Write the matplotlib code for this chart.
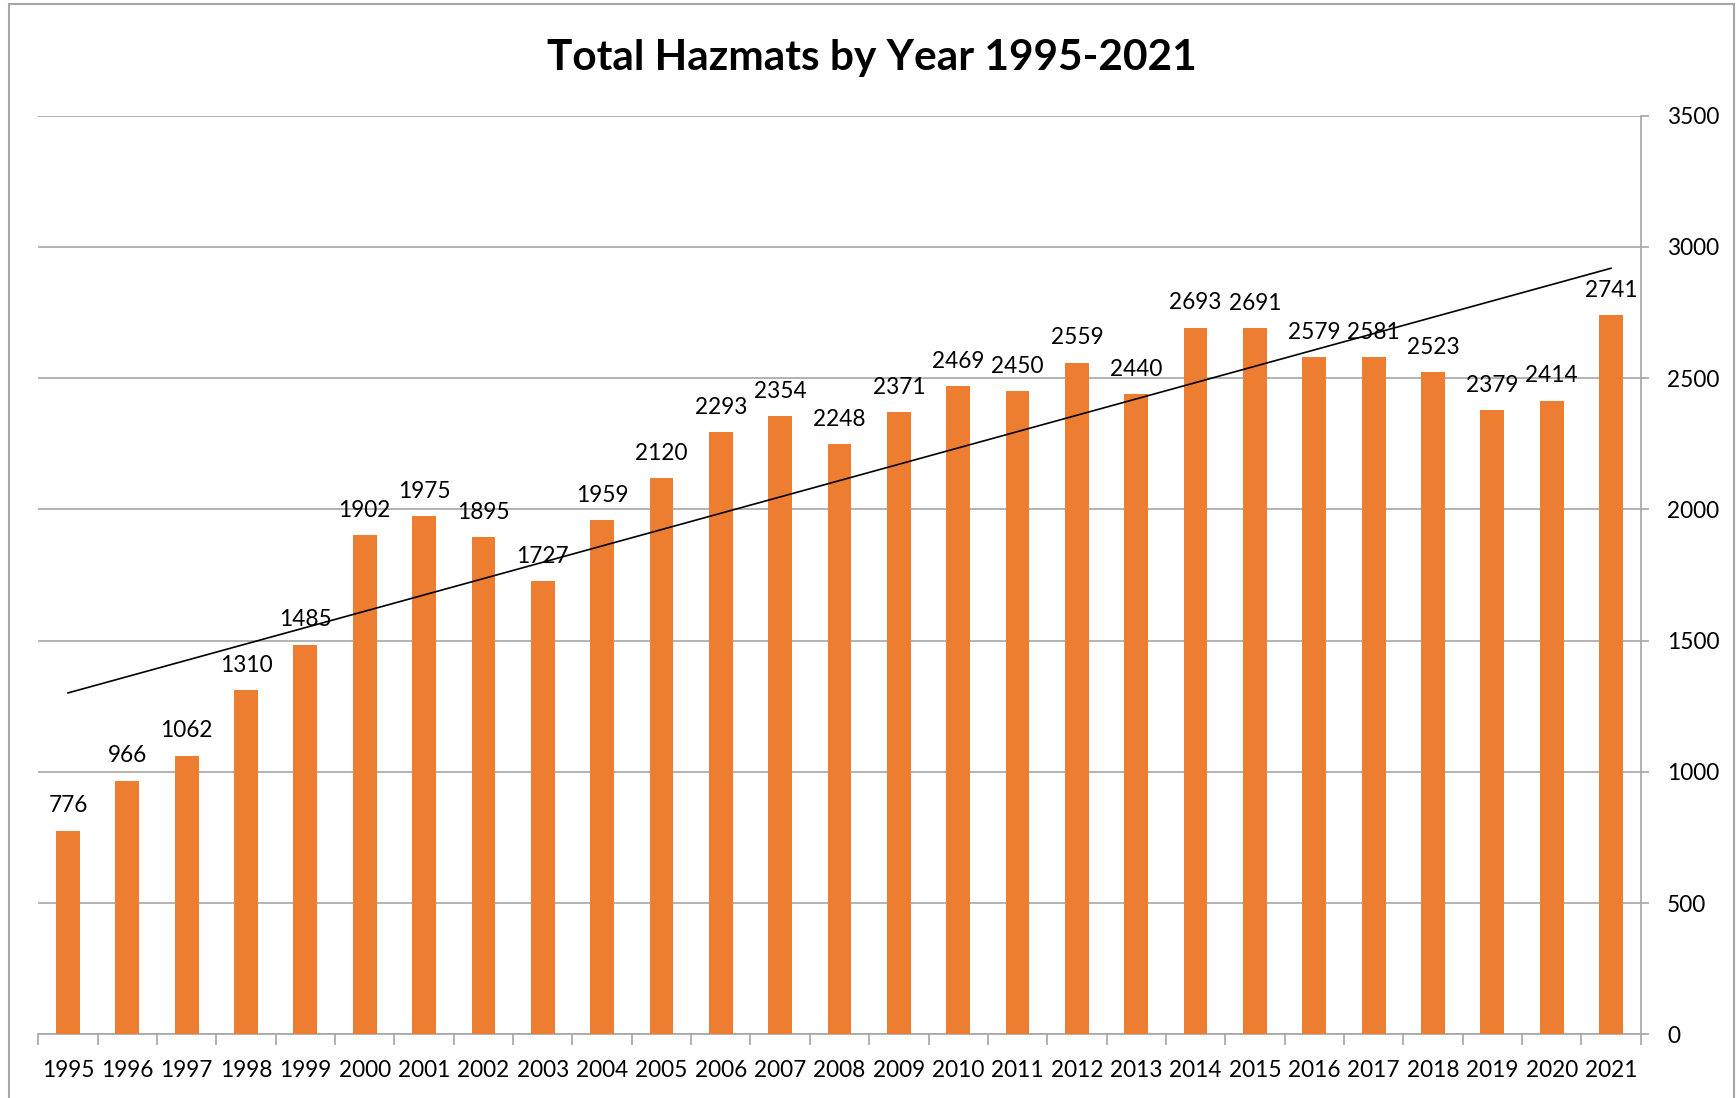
import matplotlib
matplotlib.use("Agg")
import matplotlib.pyplot as plt
import numpy as np
from matplotlib.patches import Rectangle

years = ["1995", "1996", "1997", "1998", "1999", "2000", "2001", "2002", "2003",
         "2004", "2005", "2006", "2007", "2008", "2009", "2010", "2011", "2012",
         "2013", "2014", "2015", "2016", "2017", "2018", "2019", "2020", "2021"]
hazmats = [776, 966, 1062, 1310, 1485, 1902, 1975, 1895, 1727, 1959, 2120, 2293,
           2354, 2248, 2371, 2469, 2450, 2559, 2440, 2693, 2691, 2579, 2581, 2523,
           2379, 2414, 2741]
y_ticks = [0, 500, 1000, 1500, 2000, 2500, 3000, 3500]
title = "Total Hazmats by Year 1995-2021"

plt.rcParams['font.family'] = ['Lato', 'DejaVu Sans']

W, H = 1736, 1098
fig = plt.figure(figsize=(W / 100, H / 100), dpi=100)
L, R, T, B = 38.3, 1640.7, 115.7, 1034.3
ax = fig.add_axes([L / W, 1 - B / H, (R - L) / W, (B - T) / H])

x = np.arange(len(years))
bar_color = "#ED7D31"
grid_color = "#A6A6A6"
ax.bar(x, hazmats, width=0.4, color=bar_color, zorder=3)

for xi, v in zip(x, hazmats):
    ax.annotate(str(v), (xi, v), xytext=(0, 13.2), textcoords="offset points",
                ha="center", va="baseline", fontsize=16.3, color="black", zorder=5)

# linear trendline (Excel-style, x = 1..n)
coef = np.polyfit(x + 1, hazmats, 1)
xt = np.array([x[0], x[-1]])
ax.plot(xt, np.polyval(coef, xt + 1), color="black", lw=1.2, zorder=4)

ax.set_xlim(-0.5, len(years) - 0.5)
ax.set_ylim(0, 3500)
ax.set_yticks(y_ticks)
ax.yaxis.tick_right()
ax.yaxis.set_label_position("right")
ax.tick_params(axis="y", which="major", length=6, width=1.2, color=grid_color,
               labelsize=16.3, pad=13, direction="out")
ax.grid(axis="y", color=grid_color, lw=1.2, zorder=0)
ax.set_axisbelow(True)

ax.set_xticks(x)
ax.set_xticklabels(years)
ax.set_xticks(np.arange(-0.5, len(years), 1.0), minor=True)
ax.tick_params(axis="x", which="major", length=0, labelsize=16.3, pad=18.5)
ax.tick_params(axis="x", which="minor", length=8, width=1.2, color=grid_color)

for s in ["top", "left"]:
    ax.spines[s].set_visible(False)
for s in ["right", "bottom"]:
    ax.spines[s].set_color(grid_color)
    ax.spines[s].set_linewidth(1.2)

fig.text(872 / W, 1 - 70 / H, title, ha="center", va="baseline",
         fontsize=30.5, fontweight="bold")

fig.patches.append(Rectangle((9 / W, -0.01), (1734 - 9) / W, (1 - 4.3 / H) + 0.01,
                             transform=fig.transFigure, fill=False,
                             edgecolor="#A6A6A6", lw=1.5))

fig.savefig("out.png", dpi=100, facecolor="white")
